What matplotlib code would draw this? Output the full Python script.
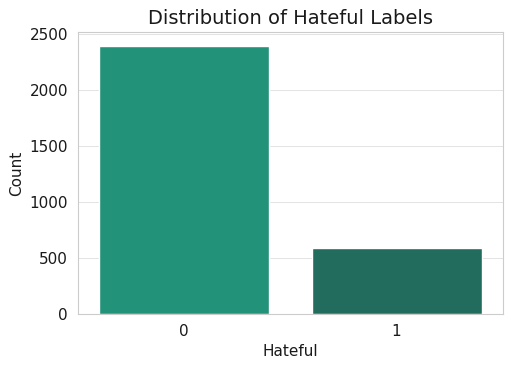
import matplotlib
matplotlib.use("Agg")
import matplotlib.pyplot as plt
import seaborn as sns

labels = ["0", "1"]
counts = [2395, 590]
colors = ["#229278", "#226c5d"]

sns.set_style("whitegrid")
plt.rcParams["text.color"] = "#1a1a1a"
plt.rcParams["axes.labelcolor"] = "#1a1a1a"
plt.rcParams["xtick.color"] = "#1a1a1a"
plt.rcParams["ytick.color"] = "#1a1a1a"

fig, ax = plt.subplots(figsize=(5.12, 3.68), dpi=100)
ax.bar(labels, counts, color=colors, width=0.8)
ax.set_title("Distribution of Hateful Labels", fontsize=14)
ax.set_xlabel("Hateful", fontsize=11)
ax.set_ylabel("Count", fontsize=11)
ax.tick_params(labelsize=11)
ax.xaxis.grid(False)
ax.yaxis.grid(True, color="#e3e3e3", linewidth=0.7)
ax.set_xlim(-0.5, 1.5)
for s in ax.spines.values():
    s.set_color("#cccccc")
fig.subplots_adjust(left=0.152, right=0.982, top=0.912, bottom=0.147)
fig.savefig("out.png")
